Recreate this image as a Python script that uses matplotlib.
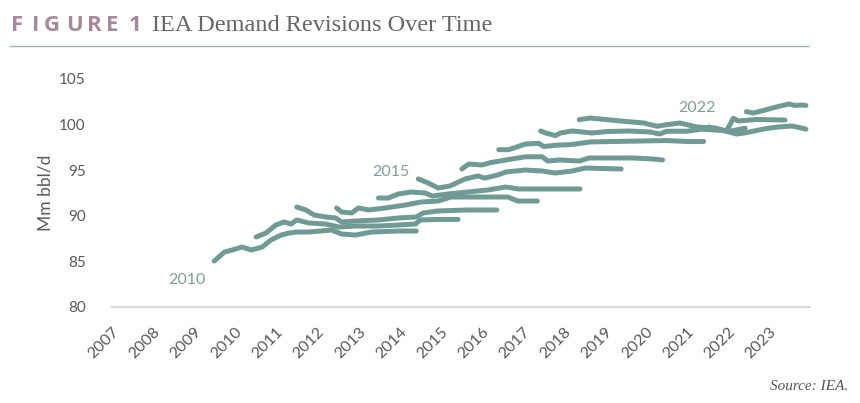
import matplotlib
matplotlib.use("Agg")
import matplotlib.pyplot as plt

# IEA demand estimates for each target year, by publication date (decimal year)
d2010_t = [2009.49, 2009.74, 2009.93, 2010.17, 2010.39, 2010.66, 2010.87, 2011.12, 2011.31, 2011.50, 2011.79, 2012.35, 2012.59, 2012.93, 2013.32, 2013.97, 2014.41]
d2010_v = [85.04, 86.03, 86.25, 86.58, 86.25, 86.58, 87.35, 87.89, 88.11, 88.22, 88.22, 88.44, 88.00, 87.89, 88.22, 88.33, 88.33]

d2011_t = [2010.51, 2010.75, 2010.99, 2011.19, 2011.36, 2011.50, 2011.79, 2012.21, 2012.52, 2012.93, 2013.49, 2013.97, 2014.39, 2014.51, 2014.94, 2015.43]
d2011_v = [87.68, 88.11, 88.99, 89.32, 89.10, 89.54, 89.21, 89.10, 88.77, 88.88, 88.88, 88.99, 89.10, 89.54, 89.60, 89.60]

d2012_t = [2011.50, 2011.72, 2011.92, 2012.21, 2012.45, 2012.59, 2012.93, 2013.49, 2013.97, 2014.41, 2014.58, 2014.94, 2015.67, 2016.37]
d2012_v = [90.96, 90.64, 90.09, 89.87, 89.76, 89.32, 89.43, 89.54, 89.76, 89.87, 90.31, 90.53, 90.64, 90.64]

d2013_t = [2012.47, 2012.59, 2012.84, 2013.00, 2013.25, 2013.66, 2014.14, 2014.53, 2014.94, 2015.26, 2016.64, 2016.88, 2017.36]
d2013_v = [90.86, 90.42, 90.31, 90.86, 90.64, 90.86, 91.18, 91.51, 91.62, 92.06, 92.06, 91.62, 91.62]

d2014_t = [2013.49, 2013.73, 2013.97, 2014.29, 2014.63, 2014.80, 2015.18, 2015.67, 2016.15, 2016.59, 2016.90, 2017.85, 2018.40]
d2014_v = [91.95, 91.95, 92.39, 92.61, 92.50, 92.17, 92.39, 92.61, 92.83, 93.16, 92.94, 92.94, 92.94]

d2015_t = [2014.46, 2014.70, 2014.94, 2015.23, 2015.60, 2015.91, 2016.08, 2016.39, 2016.59, 2017.07, 2017.48, 2017.80, 2018.21, 2018.53, 2019.40]
d2015_v = [94.04, 93.60, 93.05, 93.27, 94.04, 94.36, 94.14, 94.47, 94.80, 95.02, 94.91, 94.69, 94.91, 95.24, 95.13]

d2016_t = [2015.52, 2015.69, 2016.01, 2016.23, 2016.66, 2017.07, 2017.48, 2017.61, 2017.90, 2018.38, 2018.62, 2019.69, 2020.17, 2020.41]
d2016_v = [95.13, 95.68, 95.57, 95.84, 96.17, 96.47, 96.47, 96.01, 96.12, 96.01, 96.34, 96.34, 96.23, 96.12]

d2017_t = [2016.42, 2016.66, 2017.07, 2017.39, 2017.51, 2017.85, 2018.16, 2018.65, 2019.86, 2020.51, 2021.00, 2021.41]
d2017_v = [97.25, 97.25, 97.87, 97.95, 97.60, 97.75, 97.80, 98.10, 98.20, 98.25, 98.15, 98.15]

d2018_t = [2017.44, 2017.56, 2017.80, 2017.92, 2018.21, 2018.69, 2019.06, 2019.59, 2020.10, 2020.34, 2020.51, 2021.00, 2021.36, 2021.72, 2022.08, 2022.42]
d2018_v = [99.30, 99.08, 98.79, 99.08, 99.30, 99.08, 99.24, 99.30, 99.19, 98.97, 99.27, 99.27, 99.50, 99.40, 99.30, 99.60]

d2019_t = [2018.38, 2018.65, 2019.06, 2019.47, 2019.95, 2020.27, 2020.51, 2020.83, 2021.24, 2021.72, 2021.96, 2022.06, 2022.13, 2022.25, 2022.69, 2023.39]
d2019_v = [100.54, 100.72, 100.54, 100.36, 100.18, 99.82, 99.99, 100.18, 99.74, 99.60, 99.30, 100.07, 100.70, 100.40, 100.56, 100.50]

d2022_t = [2021.53, 2021.84, 2022.21, 2022.40, 2022.64, 2022.91, 2023.22, 2023.56, 2023.72, 2023.90]
d2022_v = [99.74, 99.41, 98.97, 99.08, 99.30, 99.55, 99.74, 99.85, 99.70, 99.50]

d2023_t = [2022.45, 2022.62, 2022.91, 2023.22, 2023.49, 2023.63, 2023.80, 2023.90]
d2023_v = [101.42, 101.27, 101.60, 101.98, 102.26, 102.10, 102.15, 102.10]

years = list(range(2007, 2024))
yticks = [80, 85, 90, 95, 100, 105]

# labels placed next to a few of the series
label_text = ["2010", "2015", "2022"]
label_t = [2008.82, 2013.80, 2021.24]
label_v = [82.96, 94.80, 101.80]

series = [(d2010_t, d2010_v), (d2011_t, d2011_v), (d2012_t, d2012_v), (d2013_t, d2013_v),
          (d2014_t, d2014_v), (d2015_t, d2015_v), (d2016_t, d2016_v), (d2017_t, d2017_v),
          (d2018_t, d2018_v), (d2019_t, d2019_v), (d2022_t, d2022_v), (d2023_t, d2023_v)]

line_color = "#709a94"
text_gray = "#595959"

fig = plt.figure(figsize=(8.6, 4.03), dpi=100)
ax = fig.add_axes([112 / 860, 1 - 307 / 403, 698 / 860, 228 / 403])

for t, v in series:
    ax.plot(t, v, color=line_color, lw=3.6, solid_capstyle="round", solid_joinstyle="round")

for txt, t, v in zip(label_text, label_t, label_v):
    ax.text(t, v, txt, color="#7c9f9a", fontsize=11.5, family="Lato", ha="center", va="center")

ax.set_xlim(2007, 2024)
ax.set_ylim(80, 105)
ax.set_xticks(years)
ax.set_xticklabels([str(y) for y in years], rotation=45, ha="right", va="top",
                   rotation_mode="anchor", family="Lato", fontsize=11.5, color=text_gray)
ax.set_yticks(yticks)
ax.set_yticklabels([str(y) for y in yticks], family="Lato", fontsize=11, color=text_gray)
ax.tick_params(axis="both", length=0)
ax.tick_params(axis="y", pad=19)
ax.tick_params(axis="x", pad=13)
for s in ["top", "right", "left"]:
    ax.spines[s].set_visible(False)
ax.spines["bottom"].set_color("#d9d9d9")
ax.spines["bottom"].set_linewidth(1.5)
ax.set_ylabel("Mm bbl/d", family="Lato", fontsize=12.5, color=text_gray, labelpad=4)

# title block
fig_letters = ["F", "I", "G", "U", "R", "E", "1"]
fig_x = [11, 32, 44, 66, 87, 106, 129]
for ch, px in zip(fig_letters, fig_x):
    fig.text(px / 860, 1 - 31 / 403, ch, color="#a8899b", fontsize=16, fontweight="bold",
             family="Open Sans", ha="left", va="baseline")
fig.text(152 / 860, 1 - 31 / 403, "IEA Demand Revisions Over Time", color="#666666",
         fontsize=17.5, family="Liberation Serif", ha="left", va="baseline")
fig.add_artist(plt.Line2D([10 / 860, 808 / 860], [1 - 46 / 403, 1 - 46 / 403],
                          color="#94b3b0", lw=1))
fig.text(848 / 860, 1 - 390 / 403, "Source: IEA.", color="#555555", fontsize=11,
         family="Liberation Serif", style="italic", ha="right", va="baseline")

fig.savefig("out.png", dpi=100)
